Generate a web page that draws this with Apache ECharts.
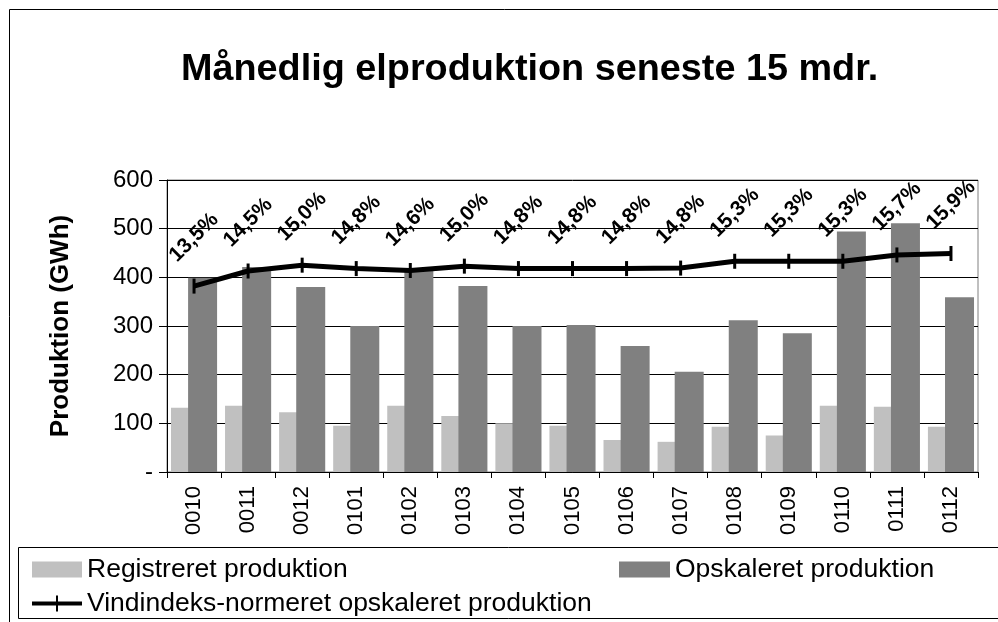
<!DOCTYPE html>
<html>
<head>
<meta charset="utf-8">
<script src="https://cdn.jsdelivr.net/npm/echarts@6/dist/echarts.min.js"></script>
<style>
  html, body { margin: 0; padding: 0; background: #fff; }
  #main { width: 998px; height: 622px; }
</style>
</head>
<body>
<div id="main"></div>
<script>
// måneder (ååmm)
const months = ["0010", "0011", "0012", "0101", "0102", "0103", "0104", "0105",
  "0106", "0107", "0108", "0109", "0110", "0111", "0112"];
// GWh
const registered = [132, 136, 123, 95, 136, 115, 100, 95, 66, 62, 93, 75, 136, 134, 93];
const scaled = [399, 421, 380, 300, 414, 382, 300, 302, 259, 206, 312, 285, 494, 511, 359];
const normalized = [382, 413, 425, 418, 414, 423, 418, 418, 418, 419, 433, 433, 433, 446, 449];
// andel i procent, vises over linjen
const shares = [13.5, 14.5, 15.0, 14.8, 14.6, 15.0, 14.8, 14.8, 14.8, 14.8, 15.3, 15.3, 15.3, 15.7, 15.9];
const yTicks = [0, 100, 200, 300, 400, 500, 600];

const font = "Liberation Sans, Arial, sans-serif";
const chart = echarts.init(document.getElementById("main"));

// linje med lodret streg, som i Excel-forklaringen
const lineIcon = "path://M0,6L50,6L50,10L0,10Z M24,0L26,0L26,16L24,16Z";

chart.setOption({
  backgroundColor: "#fff",
  animation: false,
  textStyle: { fontFamily: font, color: "#000" },
  title: {
    text: "Månedlig elproduktion seneste 15 mdr.",
    left: 176,
    top: 46,
    textStyle: { fontFamily: font, fontSize: 37.8, fontWeight: "bold", color: "#000" },
  },
  grid: {
    left: 167, right: 20, top: 180, bottom: 150,
    show: true, borderColor: "#808080", borderWidth: 1,
  },
  legend: [
    {
      data: [{ name: "Registreret produktion", icon: "rect" }],
      left: 32, top: 556, itemWidth: 50, itemHeight: 16, padding: 0,
      textStyle: { fontFamily: font, fontSize: 26.5, color: "#000" },
    },
    {
      data: [{ name: "Opskaleret produktion", icon: "rect" }],
      left: 619, top: 556, itemWidth: 51, itemHeight: 16, padding: 0,
      textStyle: { fontFamily: font, fontSize: 26.5, color: "#000" },
    },
    {
      data: [{ name: "Vindindeks-normeret opskaleret produktion", icon: lineIcon }],
      left: 32, top: 590, itemWidth: 50, itemHeight: 16, padding: 0,
      textStyle: { fontFamily: font, fontSize: 26.5, color: "#000" },
    },
  ],
  xAxis: {
    type: "category",
    data: months,
    axisLine: { lineStyle: { color: "#000", width: 1 } },
    axisTick: { show: true, length: 6, lineStyle: { color: "#000" } },
    axisLabel: { rotate: 90, margin: 14, fontSize: 22, color: "#000", fontFamily: font },
  },
  yAxis: {
    type: "value",
    min: yTicks[0],
    max: yTicks[yTicks.length - 1],
    interval: 100,
    name: "Produktion (GWh)",
    nameLocation: "middle",
    nameGap: 93,
    nameTextStyle: { fontFamily: font, fontSize: 26, fontWeight: "bold", color: "#000" },
    axisLine: { show: true, lineStyle: { color: "#000", width: 1 } },
    axisTick: { show: true, length: 8, lineStyle: { color: "#000" } },
    axisLabel: {
      fontSize: 24, margin: 14, color: "#000", fontFamily: font,
      formatter: (v) => (v === 0 ? "-" : String(v)),
    },
    splitLine: { lineStyle: { color: "#000", width: 1 } },
  },
  series: [
    {
      name: "Registreret produktion",
      type: "bar",
      data: registered,
      barWidth: 29,
      barGap: "-41%",
      itemStyle: { color: "#c0c0c0" },
    },
    {
      name: "Opskaleret produktion",
      type: "bar",
      data: scaled,
      barWidth: 29,
      itemStyle: { color: "#808080" },
    },
    {
      name: "Vindindeks-normeret opskaleret produktion",
      type: "line",
      data: normalized,
      symbol: "rect",
      symbolSize: [3, 15],
      lineStyle: { color: "#000", width: 5 },
      itemStyle: { color: "#000" },
      label: {
        show: true,
        position: "top",
        distance: 41,
        rotate: 45,
        align: "center",
        verticalAlign: "middle",
        fontFamily: font,
        fontSize: 21,
        fontWeight: "bold",
        color: "#000",
        formatter: (p) => shares[p.dataIndex].toFixed(1).replace(".", ",") + "%",
      },
      z: 5,
    },
  ],
  graphic: [
    {
      type: "rect",
      shape: { x: 9.5, y: 9.5, width: 1000, height: 700 },
      style: { fill: null, stroke: "#000", lineWidth: 1 },
      silent: true,
    },
    {
      type: "rect",
      shape: { x: 18.5, y: 547.5, width: 1000, height: 71 },
      style: { fill: null, stroke: "#000", lineWidth: 1 },
      silent: true,
    },
  ],
});
</script>
</body>
</html>
